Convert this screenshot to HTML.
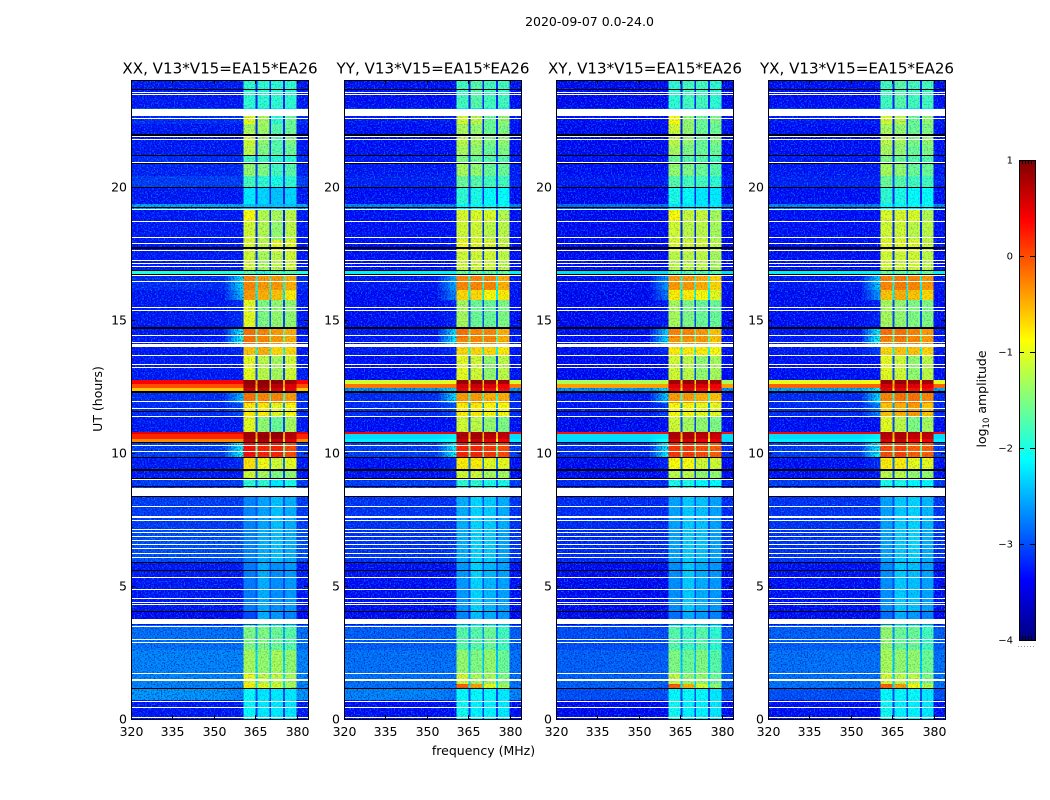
<!DOCTYPE html>
<html><head><meta charset="utf-8"><title>Amplitude waterfall</title>
<style>
html,body{margin:0;padding:0;background:#fff;width:1050px;height:800px;overflow:hidden}
svg{display:block}
text{font-family:"DejaVu Sans","Liberation Sans",sans-serif;fill:#000}
</style></head>
<body>
<svg id="fig" xmlns="http://www.w3.org/2000/svg" width="1050" height="800" viewBox="0 0 1050 800">
<defs>
<filter id="speckle" x="0" y="0" width="100%" height="100%" color-interpolation-filters="sRGB">
<feTurbulence type="fractalNoise" baseFrequency="0.7" numOctaves="1" seed="4"/>
<feColorMatrix type="matrix" values="0 0 0 0 0  0 0 0 0 0.62  0 0 0 0 1  6 0 0 0 -3"/>
</filter>
<filter id="speckle-dark" x="0" y="0" width="100%" height="100%" color-interpolation-filters="sRGB">
<feTurbulence type="fractalNoise" baseFrequency="0.7" numOctaves="1" seed="11"/>
<feColorMatrix type="matrix" values="0 0 0 0 0  0 0 0 0 0  0 0 0 0 0.55  0 6 0 0 -3"/>
</filter>
</defs>
<text x="589.5" y="26" font-size="12.5" text-anchor="middle">2020-09-07 0.0-24.0</text>
<text x="483.5" y="755" font-size="12.5" text-anchor="middle">frequency (MHz)</text>
<text transform="translate(102,399) rotate(-90)" font-size="12.5" text-anchor="middle">UT (hours)</text>
<text transform="translate(986,399) rotate(-90)" font-size="12.5" text-anchor="middle">log<tspan font-size="8.5" dy="3">10</tspan><tspan dy="-3"> amplitude</tspan></text>
<g id="plots"></g>
<g id="cbar"></g>
</svg>
<script>
// ---- Data ----
const panelNames = ["XX", "YY", "XY", "YX"];
const titleSuffix = ", V13*V15=EA15*EA26";
const xTicks = [320, 335, 350, 365, 380];
const yTicks = [0, 5, 10, 15, 20];
const cbTicks = [1, 0, -1, -2, -3, -4];

// Upper UT edge of each time band, hours
const rowTop = [24,22.95,22.64,22.35,22,21.55,21.15,20.88,20.4,19.95,19.35,19.15,18.67,18,17.55,16.86,16.64,16.1,15.74,14.68,14.3,13.97,13.63,12.73,12.6,12.45,12.28,11.87,11.38,10.78,10.72,10.5,10.4,9.8,9.35,8.98,8.34,7.1,5.9,4.02,3.53,2.6,1.69,1.3,1.13,0.71];

// log10 amplitude per band: [outer, ramp, sub1, sub2, sub3, sub4, gap]
const valuesXX = [
[-3.3,-3.3,-1.9,-1.9,-1.9,-1.9,-3.2],[-3,-3,-2.2,-2.2,-2.2,-2.2,-3],[-3.2,-3.2,-1,-1.3,-1.9,-1.6,-3.2],[-3.3,-3.3,-1.3,-1.35,-1.7,-1.6,-3.2],
[-3.3,-3.3,-1.1,-1.4,-1.7,-1.5,-3.2],[-3.3,-3.3,-1.2,-1.5,-1.7,-1.6,-3.2],[-3.2,-3.2,-1.8,-1.8,-1.9,-1.9,-3],[-3.25,-3.2,-1.4,-1.5,-1.8,-1.7,-3.1],
[-3.1,-3.1,-1.8,-1.9,-2,-1.9,-3],[-3.3,-3.3,-2.2,-2.3,-2.4,-2.3,-3.2],[-2.5,-2.5,-2.4,-2.4,-2.4,-2.4,-2.5],[-3.3,-3.3,-0.9,-1.25,-1.3,-1.2,-3.2],
[-3.3,-3.3,-1.1,-1.25,-1.4,-1.2,-3.2],[-3.3,-3.3,-1.05,-1.2,-1,-1,-3.1],[-3.3,-3.3,-1.1,-1.3,-1.2,-1.1,-3.1],[-2,-2,-1.7,-1.9,-1.7,-1.7,-2],
[-3.2,-2.2,-0.3,-0.4,-0.4,-0.5,-2],[-3.3,-2.4,-0.4,-0.5,-0.6,-0.8,-2.2],[-3.3,-3.2,-1,-1.5,-1.4,-1.4,-3],[-3.3,-2,-0.2,-0.3,-0.4,-0.5,-1.6],
[-3.3,-1.9,-0.2,-0.3,-0.4,-0.5,-1.6],[-3.3,-3.2,-0.6,-0.5,-0.7,-0.7,-2],[-3.3,-3.3,-1,-1.2,-1.3,-1.1,-3],[0.4,0.4,0.9,0.9,0.9,0.8,-0.5],
[0,0,0.8,0.85,0.7,0.5,-0.5],[-0.6,-0.6,0.6,0.7,0.5,0.4,-0.8],[-3.2,-2.4,-0.2,-0.3,-0.3,-0.4,-1.8],[-3.2,-3,-0.8,-0.8,-1,-0.9,-2.6],
[-3.3,-3.3,-1,-1.4,-1.6,-1.3,-3],[0.5,0.5,0.8,0.8,0.9,0.7,-0.5],[0.2,0.2,0.8,0.85,0.85,0.7,-0.5],[-0.3,-0.3,0.7,0.75,0.6,0.5,-1],
[-3.1,-2,0.3,0.2,0.2,0,-1.6],[-3.3,-3.2,-0.75,-0.95,-1.1,-1,-2.8],[-3.3,-3.3,-1.1,-1.3,-1.5,-1.4,-3],[-3.1,-3.1,-1.9,-1.9,-2.2,-2,-2.9],
[-3.1,-3.1,-2.7,-2.55,-2.4,-2.5,-2.95],[-3,-2.95,-2.7,-2.5,-2.4,-2.5,-2.85],[-3.3,-3.3,-2.75,-2.5,-2.65,-2.6,-3],[-3.4,-3.4,-3,-2.5,-2.6,-2.7,-3.2],
[-2.8,-2.8,-1.5,-1.5,-1.6,-1.7,-2.5],[-2.7,-2.7,-1.3,-1.4,-1.3,-1.4,-2.3],[-2.7,-2.7,-1.0,-1.2,-1.2,-1.3,-2.2],[-2.7,-2.7,-0.8,-1.0,-1.1,-1.3,-2.2],
[-2.6,-2.7,-2.1,-2.2,-2.2,-2.2,-3],[-3.3,-3.3,-2.1,-2.2,-2.2,-2.2,-3.1]];

const valuesYY = [
[-3.35,-3.35,-1.8,-1.7,-1.8,-1.8,-3.2],[-3.1,-3.1,-2.2,-2.2,-2.2,-2.2,-3],[-3.3,-3.3,-1.1,-1.2,-1.6,-1.4,-3.2],[-3.35,-3.35,-1.3,-1.4,-1.6,-1.5,-3.2],
[-3.35,-3.35,-1.2,-1.3,-1.5,-1.4,-3.2],[-3.35,-3.35,-1.3,-1.4,-1.6,-1.5,-3.2],[-3.3,-3.3,-1.5,-1.6,-1.7,-1.7,-3],[-3.3,-3.3,-1.3,-1.4,-1.6,-1.6,-3.1],
[-3.25,-3.25,-1.6,-1.7,-1.8,-1.8,-3],[-3.35,-3.35,-1.9,-2,-2.1,-2.1,-3.2],[-2.7,-2.7,-2.1,-2.1,-2.1,-2.1,-2.6],[-3.35,-3.35,-1.05,-1.05,-1.05,-1.25,-3.1],
[-3.35,-3.35,-1.1,-1.1,-1.2,-1.2,-3.2],[-3.35,-3.35,-0.95,-1,-1.05,-1.15,-3.1],[-3.35,-3.35,-1.1,-1.1,-1.1,-1.2,-3.1],[-2.2,-2.2,-1.6,-1.6,-1.6,-1.6,-2.2],
[-3.3,-2.5,-0.3,-0.3,-0.3,-0.5,-2],[-3.35,-2.7,-0.7,-0.7,-0.9,-0.8,-2.2],[-3.35,-3.25,-1.3,-1.6,-1.6,-1.5,-3],[-3.3,-2.2,-0.2,-0.3,-0.3,-0.5,-1.6],
[-3.3,-2.1,-0.3,-0.3,-0.3,-0.5,-1.6],[-3.3,-3.2,-0.7,-0.7,-0.7,-0.8,-2],[-3.35,-3.35,-1,-1.1,-1.4,-1.2,-3],[-1.1,-1,0.85,0.9,0.85,0.8,-0.7],
[-0.2,-0.2,0.55,0.6,0.5,0.4,-0.5],[-2.6,-2.2,0.4,0.45,0.3,0.3,-0.8],[-3.2,-2.2,-0.4,-0.4,-0.5,-0.5,-1.8],[-3.2,-3,-0.8,-0.8,-0.9,-0.9,-2.6],
[-3.35,-3.35,-1.1,-1.2,-1.4,-1.5,-3],[0.4,0.4,0.75,0.75,0.8,0.7,-0.5],[-2.3,-2.2,0.75,0.8,0.7,0.65,-0.6],[-2.2,-2,0.6,0.6,0.45,0.4,-1],
[-3.1,-2.1,0.2,0.2,0.1,0,-1.6],[-3.35,-3.2,-0.8,-0.8,-1,-1,-2.8],[-3.35,-3.3,-1.1,-1.1,-1.3,-1.3,-3],[-3.1,-3.1,-1.9,-1.9,-2,-2,-2.9],
[-3.15,-3.15,-2.5,-2.3,-2.35,-2.5,-3],[-3.15,-3.1,-2.5,-2.3,-2.35,-2.55,-3],[-3.35,-3.35,-2.6,-2.3,-2.45,-2.55,-3],[-3.4,-3.4,-2.7,-2.4,-2.5,-2.6,-3.2],
[-2.9,-2.9,-1.7,-1.7,-1.6,-1.8,-2.6],[-2.8,-2.8,-1.4,-1.5,-1.4,-1.6,-2.4],[-2.8,-2.8,-1.1,-1.3,-1.3,-1.5,-2.3],[-2.8,-2.8,-0.1,-0.4,-1.0,-1.3,-2.2],
[-2.7,-2.8,-2.1,-2.1,-2.1,-2.2,-3],[-3.35,-3.35,-2.05,-2.15,-2.15,-2.2,-3.1]];

const valuesXY = [
[-3.4,-3.4,-1.9,-1.8,-1.8,-1.9,-3.2],[-3.2,-3.2,-2.2,-2.2,-2.2,-2.2,-3],[-3.35,-3.35,-0.9,-1.4,-1.6,-1.5,-3.2],[-3.4,-3.4,-1.1,-1.4,-1.6,-1.6,-3.2],
[-3.4,-3.4,-1.2,-1.4,-1.6,-1.5,-3.2],[-3.4,-3.4,-1.3,-1.5,-1.6,-1.6,-3.2],[-3.35,-3.35,-1.6,-1.7,-1.7,-1.8,-3],[-3.35,-3.35,-1.4,-1.5,-1.6,-1.7,-3.1],
[-3.3,-3.3,-1.7,-1.8,-1.8,-1.9,-3],[-3.4,-3.4,-2,-2.1,-2.2,-2.2,-3.2],[-2.8,-2.8,-2.2,-2.2,-2.2,-2.2,-2.7],[-3.4,-3.4,-0.9,-1.15,-1.15,-1.3,-3.1],
[-3.4,-3.4,-1.1,-1.2,-1.2,-1.3,-3.2],[-3.4,-3.4,-1.05,-1.1,-1.1,-1.2,-3.1],[-3.4,-3.4,-1.2,-1.2,-1.2,-1.3,-3.1],[-2.3,-2.3,-1.7,-1.7,-1.7,-1.7,-2.2],
[-3.35,-2.6,-0.4,-0.4,-0.5,-0.7,-2],[-3.4,-2.8,-0.8,-0.8,-0.9,-1,-2.2],[-3.4,-3.3,-1.3,-1.5,-1.6,-1.6,-3],[-3.35,-2.3,-0.3,-0.3,-0.4,-0.6,-1.6],
[-3.35,-2.2,-0.4,-0.4,-0.4,-0.6,-1.6],[-3.35,-3.2,-0.8,-0.8,-0.8,-0.9,-2],[-3.4,-3.4,-1.1,-1.2,-1.4,-1.3,-3],[-1.3,-1.2,0.8,0.85,0.8,0.75,-0.7],
[-0.4,-0.4,0.5,0.55,0.5,0.4,-0.5],[-2.6,-2.2,0.35,0.4,0.3,0.3,-0.8],[-3.3,-2.3,-0.4,-0.4,-0.5,-0.6,-1.8],[-3.3,-3.1,-0.9,-0.9,-1,-1,-2.6],
[-3.4,-3.4,-1.1,-1.3,-1.4,-1.5,-3],[0.3,0.3,0.75,0.75,0.75,0.7,-0.5],[-2.3,-2.2,0.75,0.75,0.65,0.6,-0.6],[-2.3,-2,0.55,0.55,0.45,0.4,-1],
[-3.2,-2.1,0.1,0.1,0,-0.1,-1.6],[-3.4,-3.25,-0.9,-0.9,-1.1,-1.1,-2.8],[-3.4,-3.35,-1.2,-1.2,-1.4,-1.4,-3],[-3.2,-3.2,-2,-2,-2.1,-2.1,-2.9],
[-3.2,-3.2,-2.55,-2.35,-2.4,-2.55,-3],[-3.2,-3.2,-2.55,-2.35,-2.4,-2.55,-3],[-3.4,-3.4,-2.65,-2.35,-2.5,-2.6,-3],[-3.45,-3.45,-2.8,-2.5,-2.6,-2.7,-3.2],
[-3,-3,-1.7,-1.8,-1.7,-1.9,-2.6],[-2.9,-2.9,-1.5,-1.6,-1.5,-1.7,-2.4],[-2.9,-2.9,-1.2,-1.4,-1.4,-1.6,-2.3],[-2.9,-2.9,-0.1,-0.5,-1.1,-1.4,-2.2],
[-3,-3,-2.1,-2.1,-2.1,-2.2,-3],[-3.4,-3.4,-2.05,-2.15,-2.15,-2.2,-3.1]];

const valuesYX = [
[-3.35,-3.35,-1.8,-1.7,-1.8,-1.8,-3.2],[-3.1,-3.1,-2.2,-2.2,-2.2,-2.2,-3],[-3.3,-3.3,-1.1,-1.2,-1.6,-1.4,-3.2],[-3.35,-3.35,-1.3,-1.4,-1.6,-1.5,-3.2],
[-3.35,-3.35,-1.2,-1.3,-1.5,-1.4,-3.2],[-3.35,-3.35,-1.3,-1.4,-1.6,-1.5,-3.2],[-3.3,-3.3,-1.5,-1.6,-1.7,-1.7,-3],[-3.3,-3.3,-1.3,-1.4,-1.6,-1.6,-3.1],
[-3.25,-3.25,-1.6,-1.7,-1.8,-1.8,-3],[-3.35,-3.35,-1.9,-2,-2.1,-2.1,-3.2],[-2.7,-2.7,-2.1,-2.1,-2.1,-2.1,-2.6],[-3.35,-3.35,-1.05,-1.05,-1.05,-1.25,-3.1],
[-3.35,-3.35,-1.1,-1.1,-1.2,-1.2,-3.2],[-3.35,-3.35,-1,-1,-1.05,-1.15,-3.1],[-3.35,-3.35,-1.1,-1.1,-1.1,-1.2,-3.1],[-2.2,-2.2,-1.6,-1.6,-1.6,-1.6,-2.2],
[-3.3,-2.3,-0.3,-0.25,-0.3,-0.4,-2],[-3.35,-2.6,-0.6,-0.5,-0.6,-0.7,-2.2],[-3.35,-3.25,-1.3,-1.4,-1.5,-1.5,-3],[-3.3,-2,-0.2,-0.2,-0.3,-0.4,-1.6],
[-3.3,-1.9,-0.3,-0.25,-0.3,-0.4,-1.6],[-3.3,-3.1,-0.7,-0.6,-0.6,-0.7,-2],[-3.35,-3.35,-1,-1.1,-1.4,-1.2,-3],[-1,-0.9,0.85,0.85,0.8,0.8,-0.7],
[-0.1,-0.1,0.55,0.6,0.5,0.45,-0.5],[-2.5,-2.1,0.4,0.4,0.3,0.3,-0.8],[-3.2,-2.2,-0.3,-0.2,-0.2,-0.3,-1.8],[-3.2,-2.7,-0.6,-0.5,-0.4,-0.6,-2.6],
[-3.35,-3.35,-1,-1.2,-1.5,-1.3,-3],[0.4,0.4,0.75,0.75,0.75,0.7,-0.5],[-2.3,-2.2,0.7,0.75,0.65,0.65,-0.6],[-2.2,-2,0.5,0.6,0.4,0.4,-1],
[-3.1,-2,0,0.05,-0.1,-0.1,-1.6],[-3.35,-3.2,-0.8,-0.8,-1,-1,-2.8],[-3.35,-3.3,-1.2,-1.2,-1.4,-1.4,-3],[-3.1,-3.1,-2,-2,-2.1,-2.1,-2.9],
[-3.15,-3.15,-2.55,-2.35,-2.3,-2.45,-3],[-3.15,-3.15,-2.55,-2.35,-2.3,-2.5,-3],[-3.35,-3.35,-2.65,-2.35,-2.4,-2.55,-3],[-3.4,-3.4,-2.8,-2.5,-2.6,-2.7,-3.2],
[-2.9,-2.9,-1.4,-1.6,-1.6,-1.8,-2.6],[-2.8,-2.8,-1.3,-1.4,-1.4,-1.6,-2.4],[-2.8,-2.8,-1.1,-1.2,-1.2,-1.5,-2.3],[-2.8,-2.8,-0.1,-0.4,-0.9,-1.2,-2.2],
[-3,-3,-2.1,-2.1,-2.1,-2.2,-3],[-3.35,-3.35,-2.05,-2.15,-2.15,-2.2,-3.1]];

const panelValues = [valuesXX, valuesYY, valuesXY, valuesYX];

// Flagged (white) and dropout (black) times: [UT centre, width in hours]
const whiteFlags = [[23.54,.04],[23.44,.04],[22.78,.29],[22.54,.04],[21.87,.04],[21.77,.04],[20.91,.04],[19.15,.04],[18.69,.04],[18.09,.04],[17.87,.04],[17.58,.04],[17.23,.04],[17.12,.04],[16.99,.04],[16.64,.04],[16.44,.04],[15.44,.04],[15.36,.04],[14.41,.04],[14.15,.04],[14.03,.11],[13.66,.04],[13.3,.04],[13.19,.04],[11.94,.04],[11.67,.04],[11.37,.04],[10.28,.04],[10.05,.04],[9,.04],[8.52,.29],[7.99,.04],[7.6,.08],[7.45,.04],[7.11,.04],[7.01,.04],[6.86,.04],[6.7,.04],[6.57,.04],[6.42,.04],[6.21,.04],[6.06,.04],[5.32,.04],[4.85,.04],[4.52,.04],[4.38,.04],[4.29,.04],[3.66,.18],[3.46,.04],[3,.04],[2.89,.04],[1.72,.04],[1.48,.08],[0.66,.04],[0.44,.04],[0.05,.04]];
const blackFlags = [[23.64,.04],[21.95,.08],[21.16,.04],[20.87,.04],[19.97,.04],[19.2,.04],[17.69,.04],[16.86,.04],[16.68,.04],[14.68,.08],[12.28,.06],[11.54,.04],[10.4,.04],[9.81,.04],[9.35,.06],[9.04,.04],[8.72,.04],[8.35,.06],[5.87,.04],[5.58,.04],[4.05,.04],[1.13,.04]];

// Frequency edges, MHz
const outerLowRange = [320, 354];
const rampRange = [354, 360.6];
const rampSteps = 6;
const subBands = [[360.6,365.1],[365.7,370],[370.7,375],[375.7,379.9]];
const gapRanges = [[365.1,365.7],[370,370.7],[375,375.7]];
const outerHighRange = [379.9, 384];
const hotOuterLimit = -2.4;

// ---- Axis functions ----
const NS = "http://www.w3.org/2000/svg";
const panelLeft = [131, 344, 556, 768];
const panelW = 177, plotTop = 80, plotH = 639;
const xMin = 320, xMax = 384, yMax = 24;
const cbLeft = 1019, cbW = 16, cbTop = 160, cbH = 480;
const xScale = (left, f) => left + (f - xMin) / (xMax - xMin) * panelW;
const yScale = t => plotTop + (yMax - t) / yMax * plotH;
const cbScale = v => cbTop + (1 - v) / 5 * cbH;

function jet(v) {
  const t = Math.max(0, Math.min(1, (v + 4) / 5));
  const ramp = (a) => Math.max(0, Math.min(1, a));
  const r = ramp(Math.min(4 * t - 1.5, -4 * t + 4.5));
  const g = ramp(Math.min(4 * t - 0.5, -4 * t + 3.5));
  const b = ramp(Math.min(4 * t + 0.5, -4 * t + 2.5));
  return "rgb(" + [r, g, b].map(c => Math.round(c * 255)).join(",") + ")";
}
function mk(tag, attrs, parent) {
  const e = document.createElementNS(NS, tag);
  for (const k in attrs) e.setAttribute(k, attrs[k]);
  parent.appendChild(e);
  return e;
}

const plots = document.getElementById("plots");
panelNames.forEach((name, p) => {
  const left = panelLeft[p];
  const values = panelValues[p];
  const g = mk("g", {}, plots);
  
  

  const clipId = "clip" + p;
  const defs = mk("clipPath", { id: clipId }, g);
  mk("rect", { x: left, y: plotTop, width: panelW, height: plotH + 1 }, defs);
  const heat = mk("g", { "clip-path": "url(#" + clipId + ")", "shape-rendering": "crispEdges" }, g);
  
  

  const drawCell = (f0, f1, t0, t1, v) => {
    const x0 = xScale(left, f0), x1 = xScale(left, f1), y0 = Math.round(yScale(t0)), y1 = Math.round(yScale(t1));
    const c = mk("rect", { x: x0, y: y0, width: x1 - x0, height: y1 - y0, fill: jet(v) }, heat);
    
    
  };
  const drawOuter = (row, top, bottom) => {
    drawCell(outerLowRange[0], outerLowRange[1], top, bottom, row[0]);
    const w = (rampRange[1] - rampRange[0]) / rampSteps;
    for (let k = 0; k < rampSteps; k++) {
      const mix = (k + 1) / rampSteps;
      drawCell(rampRange[0] + k * w, rampRange[0] + (k + 1) * w, top, bottom, row[0] + (row[1] - row[0]) * mix);
    }
    drawCell(outerHighRange[0], outerHighRange[1], top, bottom, row[0]);
  };
  const bottomOf = i => i + 1 < rowTop.length ? rowTop[i + 1] : -0.05;

  // Quiet outer channels first: these carry the speckle
  rowTop.forEach((top, i) => {
    if (values[i][0] <= hotOuterLimit) drawOuter(values[i], top, bottomOf(i));
  });
  const n1 = mk("rect", { x: left, y: plotTop, width: panelW, height: plotH + 1, filter: "url(#speckle)", opacity: 0.6 }, heat);
  
  
  const n2 = mk("rect", { x: left, y: plotTop, width: panelW, height: plotH + 1, filter: "url(#speckle-dark)", opacity: 0.5 }, heat);
  
  

  // Strong outer rows and the sub-bands go on top
  rowTop.forEach((top, i) => {
    const row = values[i];
    const bottom = bottomOf(i);
    if (row[0] > hotOuterLimit) drawOuter(row, top, bottom);
    subBands.forEach((sb, k) => drawCell(sb[0], sb[1], top, bottom, row[2 + k]));
    gapRanges.forEach(gr => drawCell(gr[0], gr[1], top, bottom, row[6]));
  });
  const bx0 = xScale(left, subBands[0][0]), bx1 = xScale(left, subBands[3][1]);
  const n3 = mk("rect", { x: bx0, y: plotTop, width: bx1 - bx0, height: plotH + 1, filter: "url(#speckle-dark)", opacity: 0.2 }, heat);
  
  

  const drawFlag = (d, col) => {
    const y0 = Math.round(yScale(d[0] + d[1] / 2));
    const y1 = Math.round(yScale(d[0] - d[1] / 2));
    const r = mk("rect", { x: left, y: y0, width: panelW, height: Math.max(1, y1 - y0), fill: col }, heat);
    
    
  };
  blackFlags.forEach(d => drawFlag(d, "#000"));
  whiteFlags.forEach(d => drawFlag(d, "#fff"));

  const frame = mk("rect", { x: left + .5, y: plotTop + .5, width: panelW, height: plotH, fill: "none", stroke: "#000", "stroke-width": 1 }, g);
  
  

  const title = mk("text", { x: left + panelW / 2 + .5, y: 73.5, "font-size": 15.1, "text-anchor": "middle" }, g);
  title.textContent = name + titleSuffix;
  
  

  xTicks.forEach(f => {
    const x = Math.round(xScale(left, f)) + .5;
    const t1 = mk("path", { d: "M" + x + " " + (plotTop + plotH) + "v-4M" + x + " " + plotTop + "v4", stroke: "#000", fill: "none" }, g);
    
    
    const l = mk("text", { x: x, y: plotTop + plotH + 17, "font-size": 12.5, "text-anchor": "middle" }, g);
    l.textContent = f;
    
    
  });
  yTicks.forEach(t => {
    const y = Math.round(yScale(t)) + .5;
    const t1 = mk("path", { d: "M" + left + " " + y + "h4M" + (left + panelW) + " " + y + "h-4", stroke: "#000", fill: "none" }, g);
    
    
    const l = mk("text", { x: left - 4, y: y + 4, "font-size": 12.5, "text-anchor": "end" }, g);
    l.textContent = t;
    
    
  });
});

// ---- Colorbar ----
const cbar = document.getElementById("cbar");
const cbLevels = 256;
for (let i = 0; i < cbLevels; i++) {
  const v = 1 - 5 * (i + .5) / cbLevels;
  const y0 = cbScale(1 - 5 * i / cbLevels), y1 = cbScale(1 - 5 * (i + 1) / cbLevels);
  const s = mk("rect", { x: cbLeft, y: y0, width: cbW, height: y1 - y0 + .4, fill: jet(v), "shape-rendering": "crispEdges" }, cbar);
  
  
}
const cbFrame = mk("rect", { x: cbLeft + .5, y: cbTop + .5, width: cbW, height: cbH, fill: "none", stroke: "#000" }, cbar);


cbTicks.forEach(v => {
  const y = Math.round(cbScale(v)) + .5;
  const t = mk("path", { d: "M" + cbLeft + " " + y + "h5M" + (cbLeft + cbW) + " " + y + "h-5", stroke: "#000", fill: "none" }, cbar);
  
  
  const l = mk("text", { x: cbLeft - 6, y: y + 3, "font-size": 10, "text-anchor": "end" }, cbar);
  l.textContent = v < 0 ? "\u2212" + Math.abs(v) : String(v);
  
  
});
const cbMinor = mk("path", { d: "M1022.5 160v4M1025.5 160v4M1028.5 160v4M1031.5 160v4M1022.5 640v-4M1025.5 640v-4M1028.5 640v-4M1031.5 640v-4", stroke: "#000", fill: "none" }, cbar);


const cbDots = mk("path", { d: "M1018 646.5h18", stroke: "#999", "stroke-dasharray": "1 2", fill: "none" }, cbar);


</script>
</body></html>
